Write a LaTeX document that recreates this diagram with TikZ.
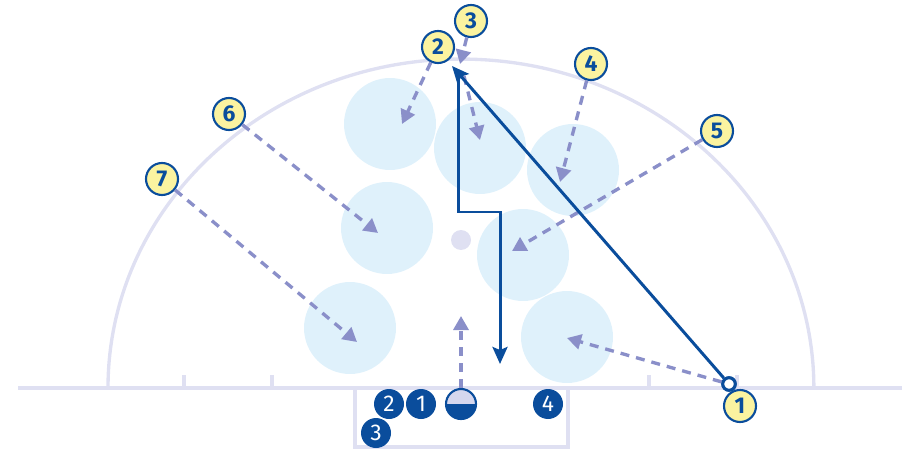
\documentclass[tikz,border=0pt]{standalone}
\usepackage{fontspec}
\setmainfont{Fira Sans}
\usetikzlibrary{arrows.meta}

\definecolor{courtC}{HTML}{DFE0F2}
\definecolor{zoneC}{HTML}{DFF1FB}
\definecolor{moveC}{HTML}{8A8FC9}
\definecolor{teamC}{HTML}{0A4D9C}
\definecolor{tagC}{HTML}{FBF3A0}
\definecolor{gkC}{HTML}{D5D7EE}

\begin{document}
\begin{tikzpicture}
[x=0.02cm, y=-0.02cm,
   court/.style={courtC, line width=1.9pt},
   zone/.style={shape=circle, fill=zoneC, minimum size=1.84cm, inner sep=0pt},
   tag/.style={shape=circle, draw=teamC, line width=1.2pt, fill=tagC, minimum size=0.64cm, inner sep=0pt,
     text=teamC, font=\fontsize{13}{13}\selectfont\bfseries},
   plyr/.style={shape=circle, fill=teamC, minimum size=0.6cm, inner sep=0pt,
     text=white, font=\fontsize{13}{13}\selectfont},
   gk/.style={shape=circle, draw=teamC, line width=1.2pt, minimum size=0.6cm, inner sep=0pt,
     path picture={\fill[gkC] (path picture bounding box.north west) rectangle (path picture bounding box.east);
       \fill[teamC] (path picture bounding box.west) rectangle (path picture bounding box.south east);}},
   ringG/.style={shape=circle, draw=teamC, fill=white, line width=1.7pt, minimum size=0.25cm, inner sep=0pt},
->/.style={teamC, line width=1.7pt, arrows={-Stealth[length=0.34cm, width=0.3cm, inset=0.06cm]}},
-->/.style={moveC, line width=1.9pt, dash pattern=on 0.18cm off 0.14cm, arrows={-Triangle[length=0.28cm, width=0.3cm]}}]
\useasboundingbox (0,0) rectangle (911,449);
% court
\draw [court, line width=2.3pt] (18,388) -- (902,388);
\draw [court] (108,388) arc [start angle=180, end angle=0, x radius=7.06cm, y radius=6.58cm];
\foreach \tx in {184,272,649,737}
  \draw [court] (\tx,388) -- (\tx,375);
\draw [court] (355,388) |- (568,447) -- (568,388);
\node [shape=circle, fill=courtC, minimum size=0.4cm] (hoop) at (461,240) {};
% zones
\node[zone] (z1) at (390,124) {};
\node[zone] (z2) at (480,148) {};
\node[zone] (z3) at (573,170) {};
\node[zone] (z4) at (387,228) {};
\node[zone] (z5) at (523,255) {};
\node[zone] (z6) at (350,328) {};
\node[zone] (z7) at (567,337) {};
% moves
\node[tag] (t1) at (740,406) {1};
\node[tag] (t2) at (438,47) {2};
\node[tag] (t3) at (471,21) {3};
\node[tag] (t4) at (591,64) {4};
\node[tag] (t5) at (717,131) {5};
\node[tag] (t6) at (229,114) {6};
\node[tag] (t7) at (162,179) {7};
\node[ringG] (ring) at (729,384) {};
\coordinate (a1) at (567,338);
\coordinate (a2) at (402,124);
\coordinate (a3) at (460,64);
\coordinate (b3) at (464,76);
\coordinate (c3) at (480,140);
\coordinate (a4) at (560,182);
\coordinate (a5) at (512,251);
\coordinate (a6) at (378,233);
\coordinate (a7) at (357,342);
\draw [-->] (ring) -- (a1);
\draw [-->] (t2) -- (a2);
\draw [-->] (t3) -- (a3);
\draw [-->] (b3) -- (c3);
\draw [-->] (t4) -- (a4);
\draw [-->] (t5) -- (a5);
\draw [-->] (t6) -- (a6);
\draw [-->] (t7) -- (a7);
% runs
\coordinate (top) at (452,66);
\coordinate (cut) at (458,76);
\coordinate (jog) at (500,212);
\coordinate (low) at (500,364);
\draw [->] (ring) -- (top);
\draw [->] (cut) |- (jog) -- (low);
\node[ringG] at (ring) {};
% bench
\node[plyr] (p2) at (389,404) {2};
\node[plyr] (p1) at (421,404) {1};
\node[plyr] (p3) at (376,433) {3};
\node[plyr] (p4) at (548,404) {4};
\node[gk] (keeper) at (461,404) {};
\coordinate (ag) at (461,316);
\draw [-->] (keeper.north) -- (ag);
\end{tikzpicture}
\end{document}
